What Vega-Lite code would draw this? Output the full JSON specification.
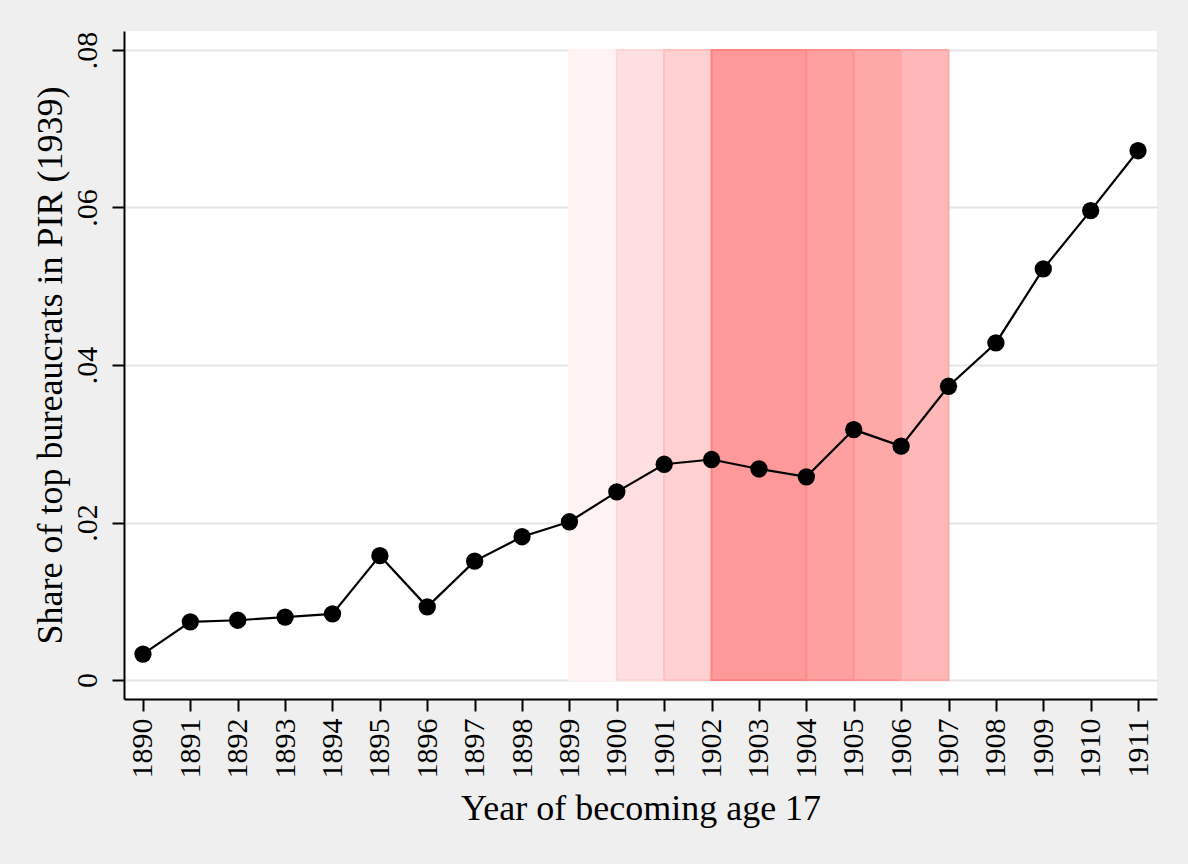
{
  "$schema": "https://vega.github.io/schema/vega-lite/v6.json",
  "width": 1033,
  "height": 668,
  "autosize": {"type": "none"},
  "padding": {"left": 124, "top": 31, "right": 31, "bottom": 165},
  "background": "#efefef",
  "config": {
    "view": {"fill": "white", "stroke": null},
    "font": "Liberation Serif",
    "axis": {
      "labelFont": "Liberation Serif",
      "titleFont": "Liberation Serif",
      "labelColor": "black",
      "titleColor": "black",
      "titleFontWeight": "normal",
      "domainColor": "black",
      "domainWidth": 2,
      "tickColor": "black",
      "tickWidth": 2,
      "tickSize": 12,
      "labelFontSize": 30,
      "titleFontSize": 36
    }
  },
  "datasets": {
    "bands": [
      {"start": 1899, "end": 1900, "level": "a"},
      {"start": 1900, "end": 1901, "level": "b"},
      {"start": 1901, "end": 1902, "level": "c"},
      {"start": 1902, "end": 1904, "level": "d"},
      {"start": 1904, "end": 1905, "level": "e"},
      {"start": 1905, "end": 1906, "level": "f"},
      {"start": 1906, "end": 1907, "level": "g"}
    ],
    "series": [
      {"year": 1890, "share": 0.0033},
      {"year": 1891, "share": 0.0074},
      {"year": 1892, "share": 0.0076},
      {"year": 1893, "share": 0.0080},
      {"year": 1894, "share": 0.0084},
      {"year": 1895, "share": 0.0158},
      {"year": 1896, "share": 0.0093},
      {"year": 1897, "share": 0.0151},
      {"year": 1898, "share": 0.0182},
      {"year": 1899, "share": 0.0201},
      {"year": 1900, "share": 0.0239},
      {"year": 1901, "share": 0.0274},
      {"year": 1902, "share": 0.0280},
      {"year": 1903, "share": 0.0268},
      {"year": 1904, "share": 0.0258},
      {"year": 1905, "share": 0.0318},
      {"year": 1906, "share": 0.0297},
      {"year": 1907, "share": 0.0373},
      {"year": 1908, "share": 0.0428},
      {"year": 1909, "share": 0.0522},
      {"year": 1910, "share": 0.0596},
      {"year": 1911, "share": 0.0672}
    ]
  },
  "layer": [
    {
      "data": {"name": "bands"},
      "mark": {"type": "rect", "strokeWidth": 2},
      "encoding": {
        "x": {"field": "start", "type": "quantitative",
              "scale": {"domain": [1889.6, 1911.4], "nice": false, "zero": false},
              "axis": {"values": [1890,1891,1892,1893,1894,1895,1896,1897,1898,1899,1900,1901,1902,1903,1904,1905,1906,1907,1908,1909,1910,1911],
                       "format": "d", "labelAngle": -90, "labelAlign": "right", "labelBaseline": "middle",
                       "labelPadding": 7, "grid": false, "title": "Year of becoming age 17", "titlePadding": 13}},
        "x2": {"field": "end"},
        "y": {"datum": 0, "type": "quantitative",
              "scale": {"domain": [-0.0024, 0.0824], "nice": false, "zero": false},
              "axis": {"values": [0, 0.02, 0.04, 0.06, 0.08],
                       "labelExpr": "datum.value == 0 ? '0' : replace(format(datum.value, '.2f'), '0.', '.')",
                       "labelAngle": -90, "labelAlign": "center", "labelBaseline": "bottom", "labelPadding": 10,
                       "grid": true, "gridColor": "#e6e6e6", "gridWidth": 2,
                       "title": "Share of top bureaucrats in PIR (1939)", "titlePadding": 3}},
        "y2": {"datum": 0.08},
        "fill": {"field": "level", "type": "nominal", "legend": null,
                 "scale": {"domain": ["a","b","c","d","e","f","g"],
                           "range": ["#fff4f3", "#ffdfdf", "#ffd0d0", "#ff9898", "#ffa0a0", "#ffa8a8", "#ffb8b8"]}},
        "stroke": {"field": "level", "type": "nominal", "legend": null,
                   "scale": {"domain": ["a","b","c","d","e","f","g"],
                             "range": ["#fff1f0", "#ffd6d6", "#ffc0c0", "#ff8484", "#ff8c8c", "#ff9494", "#ffa8a8"]}}
      }
    },
    {
      "data": {"name": "series"},
      "mark": {"type": "line", "color": "black", "strokeWidth": 2.2},
      "encoding": {
        "x": {"field": "year", "type": "quantitative"},
        "y": {"field": "share", "type": "quantitative"}
      }
    },
    {
      "data": {"name": "series"},
      "mark": {"type": "point", "filled": true, "color": "black", "opacity": 1, "size": 300},
      "encoding": {
        "x": {"field": "year", "type": "quantitative"},
        "y": {"field": "share", "type": "quantitative"}
      }
    }
  ]
}
